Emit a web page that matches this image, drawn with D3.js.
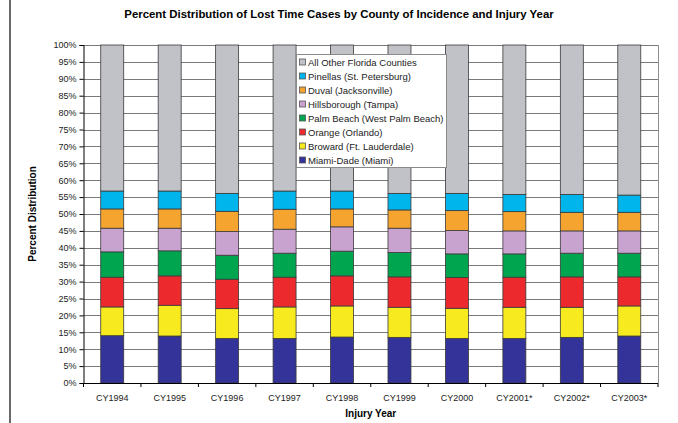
<!DOCTYPE html>
<html>
<head>
<meta charset="utf-8">
<script src="https://cdn.jsdelivr.net/npm/d3@7"></script>
<style>
  body { margin: 0; background: #fff; }
  svg { display: block; font-family: "Liberation Sans", Arial, sans-serif; }
</style>
</head>
<body>
<div class="chart"></div>
<script>
// categories
var years = ['CY1994', 'CY1995', 'CY1996', 'CY1997', 'CY1998',
             'CY1999', 'CY2000', 'CY2001*', 'CY2002*', 'CY2003*'];

// series, bottom to top (percent of each year)
var counties = [
    'Miami-Dade (Miami)',
    'Broward (Ft. Lauderdale)',
    'Orange (Orlando)',
    'Palm Beach (West Palm Beach)',
    'Hillsborough (Tampa)',
    'Duval (Jacksonville)',
    'Pinellas (St. Petersburg)',
    'All Other Florida Counties'
];
var miamiDade    = [14.0, 13.9, 13.2, 13.2, 13.6, 13.5, 13.2, 13.2, 13.5, 13.9];
var broward      = [ 8.5,  9.1,  8.8,  9.3,  9.2,  8.9,  8.9,  9.2,  8.9,  8.9];
var orange       = [ 8.8,  8.7,  8.7,  8.8,  8.9,  9.0,  9.1,  8.9,  9.0,  8.6];
var palmBeach    = [ 7.5,  7.4,  7.1,  7.1,  7.3,  7.2,  7.0,  6.9,  7.0,  7.0];
var hillsborough = [ 7.0,  6.7,  7.0,  7.1,  7.2,  7.2,  6.9,  6.8,  6.6,  6.6];
var duval        = [ 5.7,  5.7,  6.0,  5.9,  5.3,  5.4,  5.9,  5.7,  5.5,  5.5];
var pinellas     = [ 5.3,  5.3,  5.3,  5.4,  5.3,  4.9,  5.1,  5.1,  5.3,  5.1];
var allOther     = [43.2, 43.2, 43.9, 43.2, 43.2, 43.9, 43.9, 44.2, 44.2, 44.4];

var colors = ['#333399', '#f7ea1f', '#ec2a2e', '#00a64f',
              '#c9a3cf', '#f5a42f', '#00b4ec', '#c0c2c7'];

var yTicks = d3.range(0, 101, 5);

// build table for d3.stack
var seriesVals = [miamiDade, broward, orange, palmBeach, hillsborough, duval, pinellas, allOther];
var table = years.map((yr, i) => {
    var row = { year: yr };
    counties.forEach((c, j) => { row[c] = seriesVals[j][i]; });
    return row;
});

var W = 678, H = 423;
var margin = { top: 45, right: 20, bottom: 40, left: 83.5 };
var width  = 658 - margin.left;
var height = 383 - margin.top;

var svg = d3.select('.chart').append('svg')
    .attr('width', W)
    .attr('height', H);

// outer frame line on the left
svg.append('line')
    .attr('x1', 10).attr('x2', 10)
    .attr('y1', 0).attr('y2', H)
    .attr('stroke', '#6b6b6b')
    .attr('stroke-width', 2);

var g = svg.append('g')
    .attr('transform', `translate(${margin.left}, ${margin.top})`);

var x = d3.scaleBand()
    .domain(years)
    .range([0, width])
    .paddingInner(0.6)
    .paddingOuter(0.3);
var y = d3.scaleLinear()
    .domain([0, 100])
    .range([height, 0]);

// gridlines
g.selectAll('.grid')
    .data(yTicks.filter((t) => t > 0))
    .enter().append('line')
    .attr('x1', 0).attr('x2', width)
    .attr('y1', (d) => Math.round(y(d)) + 0.5)
    .attr('y2', (d) => Math.round(y(d)) + 0.5)
    .attr('stroke', '#7a7a7a')
    .attr('stroke-width', 1);

// right border
g.append('line')
    .attr('x1', width + 0.5).attr('x2', width + 0.5)
    .attr('y1', 0).attr('y2', height)
    .attr('stroke', '#8a8f94');

var stack = d3.stack().keys(counties);
var layers = stack(table);

g.selectAll('.layer')
    .data(layers)
    .enter().append('g')
    .attr('class', 'layer')
    .attr('fill', (d, i) => colors[i])
    .selectAll('rect')
    .data((d) => d)
    .enter().append('rect')
    .attr('x', (d) => x(d.data.year))
    .attr('width', x.bandwidth())
    .attr('y', (d) => y(d[1]))
    .attr('height', (d) => y(d[0]) - y(d[1]))
    .attr('stroke', '#3a3a3a')
    .attr('stroke-width', 0.8);

// y axis
var yAxis = g.append('g')
    .call(d3.axisLeft(y).tickValues(yTicks).tickSize(4).tickPadding(3)
        .tickFormat((d) => d + '%'));
yAxis.select('.domain').attr('stroke', '#000');
yAxis.selectAll('text').attr('font-size', 9).attr('fill', '#222')
    .attr('font-family', '"Liberation Sans", Arial, sans-serif');

// x axis: ticks between categories
var xAxisG = g.append('g')
    .attr('transform', `translate(0, ${height})`);
xAxisG.append('line')
    .attr('x1', 0).attr('x2', width)
    .attr('y1', 0.5).attr('y2', 0.5)
    .attr('stroke', '#000');
xAxisG.selectAll('.xt')
    .data(d3.range(0, years.length + 1))
    .enter().append('line')
    .attr('x1', (d) => d * width / years.length)
    .attr('x2', (d) => d * width / years.length)
    .attr('y1', 0).attr('y2', 4)
    .attr('stroke', '#000');
xAxisG.selectAll('.xl')
    .data(years)
    .enter().append('text')
    .attr('x', (d) => x(d) + x.bandwidth() / 2)
    .attr('y', 18)
    .attr('text-anchor', 'middle')
    .attr('font-size', 9)
    .attr('fill', '#222')
    .text((d) => d);

// titles
svg.append('text')
    .attr('x', 339).attr('y', 18)
    .attr('text-anchor', 'middle')
    .attr('font-size', 11.4).attr('font-weight', 'bold')
    .text('Percent Distribution of Lost Time Cases by County of Incidence and Injury Year');

svg.append('text')
    .attr('x', margin.left + width / 2).attr('y', 417)
    .attr('text-anchor', 'middle')
    .attr('font-size', 10).attr('font-weight', 'bold')
    .text('Injury Year');

svg.append('text')
    .attr('transform', `translate(36, ${margin.top + height / 2}) rotate(-90)`)
    .attr('text-anchor', 'middle')
    .attr('font-size', 10).attr('font-weight', 'bold')
    .text('Percent Distribution');

// legend
var legend = svg.append('g').attr('transform', 'translate(296, 54)');
legend.append('rect')
    .attr('x', 0.5).attr('y', 0.5)
    .attr('width', 150).attr('height', 113)
    .attr('fill', '#fff')
    .attr('stroke', '#8a8a8a');
var order = d3.range(counties.length).reverse();
var items = legend.selectAll('.item')
    .data(order)
    .enter().append('g')
    .attr('transform', (d, i) => `translate(3, ${8 + i * 14})`);
items.append('rect')
    .attr('x', 0.5).attr('y', -3)
    .attr('width', 6).attr('height', 6)
    .attr('fill', (d) => colors[d])
    .attr('stroke', '#555')
    .attr('stroke-width', 0.8);
items.append('text')
    .attr('x', 9).attr('y', 3.5)
    .attr('font-size', 9.5)
    .attr('fill', '#222')
    .text((d) => counties[d]);
</script>
</body>
</html>
